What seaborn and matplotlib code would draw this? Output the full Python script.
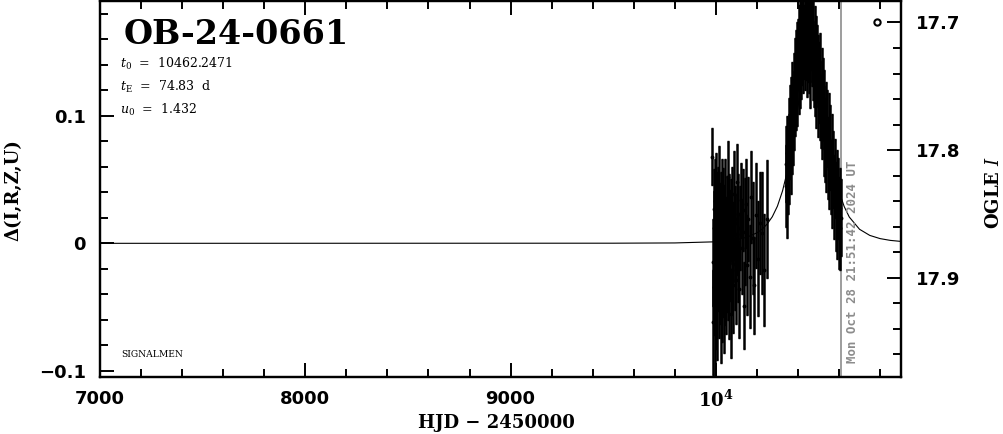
#!/usr/bin/env python3
"""
Light curve of OB-24-0661: Delta mag vs HJD with a point-lens model.
"""

import pandas as pd
import matplotlib
matplotlib.use('Agg')
import matplotlib.pyplot as plt
from matplotlib.ticker import MultipleLocator
import seaborn as sns

# Event parameters (as printed on the chart)
EVENT = "OB-24-0661"
PARAM_LINES = [r"$t_0$  =  10462.2471", r"$t_{\rm E}$  =  74.83  d", r"$u_0$  =  1.432"]
NOW_LABEL = "Mon Oct 28 21:51:42 2024 UT"
NOW_HJD = 10610.9
BASE_MAG = 17.873  # OGLE I at Delta = 0

# Observations, group 1 (early season)
t_obs1 = [9983, 9986, 9987, 9989, 9991, 9992, 9994, 9995, 9997, 9998,
          10000, 10001, 10003, 10004, 10006, 10007, 10009, 10010, 10012, 10013,
          10015, 10016, 10018, 10020, 10021, 10023, 10025, 10026, 10028, 10030,
          10032, 10034, 10036, 10037, 10039, 10041, 10043, 10045, 10047, 10049,
          10051, 10053, 10055, 10057, 10059, 10061, 10063, 10066, 10068, 10070,
          10073, 10075, 10078, 10080, 10083, 10086, 10089, 10092, 10095, 10098,
          10101, 10104, 10107, 10110, 10114, 10118, 10122, 10126, 10130, 10135,
          10140, 10146, 10152, 10158, 10165, 10172, 10180, 10188, 10197, 10206,
          10216, 10226, 10237, 10247]
d_obs1 = [0.068, -0.015, -0.062, 0.012, -0.034, 0.027, -0.071, 0.004, 0.033, -0.022,
          0.041, -0.046, 0.008, -0.003, 0.022, -0.052, 0.031, -0.018, 0.014, -0.038,
          0.046, -0.009, 0.019, -0.028, 0.002, -0.057, 0.026, -0.014, 0.037, -0.041,
          0.011, -0.024, 0.029, -0.006, -0.048, 0.017, -0.031, 0.035, -0.012, 0.006,
          -0.037, 0.021, -0.019, 0.052, -0.027, 0.009, -0.044, 0.024, -0.008, 0.013,
          -0.055, 0.018, -0.021, 0.030, -0.033, 0.001, 0.039, -0.016, 0.016, -0.029,
          0.007, 0.048, -0.011, 0.023, -0.036, 0.012, 0.034, -0.004, 0.026, -0.049,
          0.009, 0.031, -0.017, 0.019, -0.026, 0.036, 0.004, -0.033, 0.022, -0.012,
          0.016, 0.008, -0.021, 0.019]
e_obs1 = [0.022, 0.034, 0.041, 0.029, 0.036, 0.031, 0.038, 0.027, 0.033, 0.035,
          0.030, 0.037, 0.032, 0.028, 0.034, 0.039, 0.029, 0.033, 0.031, 0.036,
          0.030, 0.034, 0.028, 0.035, 0.032, 0.037, 0.030, 0.033, 0.029, 0.036,
          0.031, 0.034, 0.030, 0.035, 0.038, 0.029, 0.033, 0.031, 0.036, 0.030,
          0.034, 0.032, 0.035, 0.028, 0.033, 0.037, 0.031, 0.030, 0.036, 0.029,
          0.035, 0.032, 0.034, 0.030, 0.037, 0.031, 0.033, 0.036, 0.029, 0.034,
          0.032, 0.030, 0.035, 0.031, 0.038, 0.033, 0.029, 0.036, 0.032, 0.034,
          0.042, 0.035, 0.039, 0.033, 0.040, 0.036, 0.044, 0.038, 0.041, 0.045,
          0.040, 0.048, 0.044, 0.046]

# Observations, group 2 (around the peak)
t_obs2 = [10341, 10344, 10347, 10349, 10352, 10355, 10357, 10360, 10363, 10365,
          10368, 10371, 10373, 10376, 10379, 10381, 10384, 10387, 10389, 10392,
          10395, 10397, 10400, 10403, 10405, 10408, 10411, 10413, 10416, 10419,
          10421, 10424, 10427, 10429, 10432, 10435, 10437, 10440, 10443, 10445,
          10448, 10451, 10453, 10456, 10459, 10461, 10464, 10467, 10469, 10472,
          10475, 10478, 10481, 10484, 10487, 10490, 10493, 10496, 10499, 10502,
          10505, 10508, 10512, 10515, 10518, 10522, 10525, 10528, 10532, 10535,
          10539, 10542, 10546, 10549, 10553, 10556, 10560, 10564, 10568, 10572,
          10576, 10580, 10584, 10588, 10592, 10596, 10600, 10604, 10607, 10610]
d_obs2 = [0.045, 0.062, 0.038, 0.071, 0.056, 0.083, 0.066, 0.078, 0.094, 0.072,
          0.101, 0.086, 0.112, 0.095, 0.121, 0.104, 0.128, 0.113, 0.135, 0.119,
          0.142, 0.126, 0.148, 0.133, 0.157, 0.141, 0.163, 0.146, 0.170, 0.152,
          0.165, 0.148, 0.176, 0.158, 0.168, 0.151, 0.179, 0.161, 0.145, 0.172,
          0.155, 0.167, 0.149, 0.174, 0.158, 0.140, 0.166, 0.152, 0.171, 0.143,
          0.160, 0.137, 0.152, 0.129, 0.147, 0.123, 0.141, 0.118, 0.135, 0.126,
          0.112, 0.131, 0.104, 0.120, 0.096, 0.113, 0.088, 0.105, 0.081, 0.097,
          0.074, 0.090, 0.067, 0.082, 0.058, 0.075, 0.052, 0.066, 0.044, 0.058,
          0.036, 0.051, 0.029, 0.043, 0.022, 0.035, 0.016, 0.028, 0.012, 0.020]
e_obs2 = [0.032, 0.030, 0.034, 0.029, 0.033, 0.031, 0.035, 0.028, 0.030, 0.033,
          0.029, 0.032, 0.030, 0.034, 0.028, 0.031, 0.033, 0.029, 0.032, 0.030,
          0.031, 0.034, 0.028, 0.032, 0.030, 0.035, 0.029, 0.033, 0.031, 0.028,
          0.033, 0.030, 0.032, 0.029, 0.034, 0.031, 0.028, 0.033, 0.030, 0.032,
          0.029, 0.033, 0.031, 0.028, 0.032, 0.034, 0.030, 0.029, 0.033, 0.031,
          0.032, 0.030, 0.034, 0.029, 0.031, 0.033, 0.030, 0.035, 0.028, 0.032,
          0.031, 0.034, 0.029, 0.033, 0.030, 0.032, 0.035, 0.031, 0.033, 0.029,
          0.034, 0.030, 0.032, 0.036, 0.031, 0.033, 0.029, 0.035, 0.032, 0.030,
          0.033, 0.031, 0.035, 0.030, 0.034, 0.032, 0.036, 0.031, 0.033, 0.030]

# Model curve
t_model = [7000, 9500, 9800, 10000, 10100, 10150, 10200, 10225, 10250, 10275,
           10300, 10325, 10350, 10375, 10400, 10430, 10462, 10500, 10525, 10550,
           10575, 10600, 10625, 10650, 10700, 10750, 10800, 10850, 10902]
d_model = [0.0, 0.0001, 0.0003, 0.0012, 0.0029, 0.0047, 0.0082, 0.0110, 0.0151, 0.0208,
           0.0291, 0.0411, 0.0577, 0.0797, 0.1063, 0.1371, 0.1518, 0.1320, 0.1057, 0.0792,
           0.0573, 0.0407, 0.0289, 0.0206, 0.0110, 0.0062, 0.0037, 0.0023, 0.0015]

# OGLE symbol in the top-right corner
OGLE_SYMBOL = (10785, 0.173)

# Axis ticks
x_ticks = [7000, 8000, 9000, 10000]
x_labels = ["7000", "8000", "9000", "$\\mathbf{10^4}$"]
y_ticks = [-0.1, 0.0, 0.1]
y_labels = ["\u22120.1", "0", "0.1"]
mag_ticks = [17.7, 17.8, 17.9]
mag_labels = ["17.7", "17.8", "17.9"]

XLIM = (7000, 10902)
YLIM = (-0.1047, 0.1898)


def main():
    sns.set_style("ticks")
    plt.rcParams['font.family'] = ['DejaVu Sans']
    plt.rcParams['mathtext.fontset'] = 'dejavuserif'
    for key in ['text.color', 'axes.labelcolor', 'xtick.color', 'ytick.color',
                'axes.edgecolor']:
        plt.rcParams[key] = 'black'

    fig = plt.figure(figsize=(10.04, 4.34), dpi=100)
    ax = fig.add_axes([100 / 1004, 1 - 377 / 434, 801 / 1004, 376 / 434])

    obs = pd.DataFrame({
        't': t_obs1 + t_obs2,
        'd': d_obs1 + d_obs2,
        'e': e_obs1 + e_obs2,
    })
    model = pd.DataFrame({'t': t_model, 'd': d_model})

    # model curve
    sns.lineplot(data=model, x='t', y='d', ax=ax, color='black', lw=0.8,
                 sort=False, zorder=2)

    # data with error bars
    ax.errorbar(obs['t'], obs['d'], yerr=obs['e'], fmt='o', ms=1.8,
                color='black', ecolor='black', elinewidth=1.8, capsize=1.0,
                capthick=1.0, zorder=3)

    ax.plot(*OGLE_SYMBOL, marker='o', ms=4.5, mfc='none', mec='black', mew=1.5)

    # now line
    ax.axvline(NOW_HJD, color='#8c8c8c', lw=1.2, zorder=1)
    ax.text(NOW_HJD + 22, YLIM[0] + 0.011, NOW_LABEL, rotation=90, color='#8c8c8c',
            fontsize=8.9, fontweight='bold', ha='left', va='bottom',
            family='DejaVu Sans Mono')

    ax.set_xlim(*XLIM)
    ax.set_ylim(*YLIM)
    ax.set_xticks(x_ticks)
    ax.set_xticklabels(x_labels)
    ax.set_yticks(y_ticks)
    ax.set_yticklabels(y_labels)
    ax.xaxis.set_minor_locator(MultipleLocator(200))
    ax.yaxis.set_minor_locator(MultipleLocator(0.02))
    ax.tick_params(which='both', direction='in', top=True, right=False,
                   width=1.4, color='black')
    ax.tick_params(which='major', length=10)
    ax.tick_params(which='minor', length=5.5)
    ax.tick_params(axis='x', which='major', pad=9, labelsize=13)
    ax.tick_params(axis='y', which='major', pad=10, labelsize=13)
    for lab in ax.get_xticklabels() + ax.get_yticklabels():
        lab.set_fontweight('bold')
    for sp in ax.spines.values():
        sp.set_visible(True)
        sp.set_linewidth(1.6)
        sp.set_color('black')
    ax.set_xlabel('')
    ax.set_ylabel('')

    # OGLE I axis on the right
    ax2 = ax.twinx()
    ax2.set_ylim(BASE_MAG - YLIM[0], BASE_MAG - YLIM[1])
    ax2.set_yticks(mag_ticks)
    ax2.set_yticklabels(mag_labels, fontweight='bold')
    ax2.yaxis.set_minor_locator(MultipleLocator(0.02))
    ax2.tick_params(which='both', direction='in', width=1.4, color='black')
    ax2.tick_params(which='major', length=10, pad=11, labelsize=13)
    ax2.tick_params(which='minor', length=5.5)
    for sp in ax2.spines.values():
        sp.set_linewidth(1.6)

    # text
    ax.text(0.029, 0.886, EVENT, transform=ax.transAxes, fontsize=24,
            family='DejaVu Serif', fontweight='bold', ha='left', va='baseline')
    for i, line in enumerate(PARAM_LINES):
        ax.text(0.025, 0.822 - i * 0.061, line, transform=ax.transAxes,
                fontsize=9, family='DejaVu Serif', ha='left', va='baseline')
    ax.text(0.026, 0.054, "SIGNALMEN", transform=ax.transAxes, fontsize=6.6,
            family='DejaVu Serif', ha='left', va='baseline')

    fig.text(13 / 1004, 1 - 190 / 434, "\u0394(I,R,Z,U)", rotation=90,
             fontsize=13, family='DejaVu Serif', fontweight='bold',
             ha='center', va='center')
    fig.text(994 / 1004, 1 - 192 / 434, "OGLE $\\mathit{I}$", rotation=90,
             fontsize=13, family='DejaVu Serif', fontweight='bold',
             ha='center', va='center')
    fig.text(496 / 1004, 1 - 423 / 434, "HJD \u2212 2450000", fontsize=13,
             family='DejaVu Serif', fontweight='bold', ha='center', va='center')

    fig.savefig('out.png', dpi=100)
    plt.close(fig)


if __name__ == "__main__":
    main()
